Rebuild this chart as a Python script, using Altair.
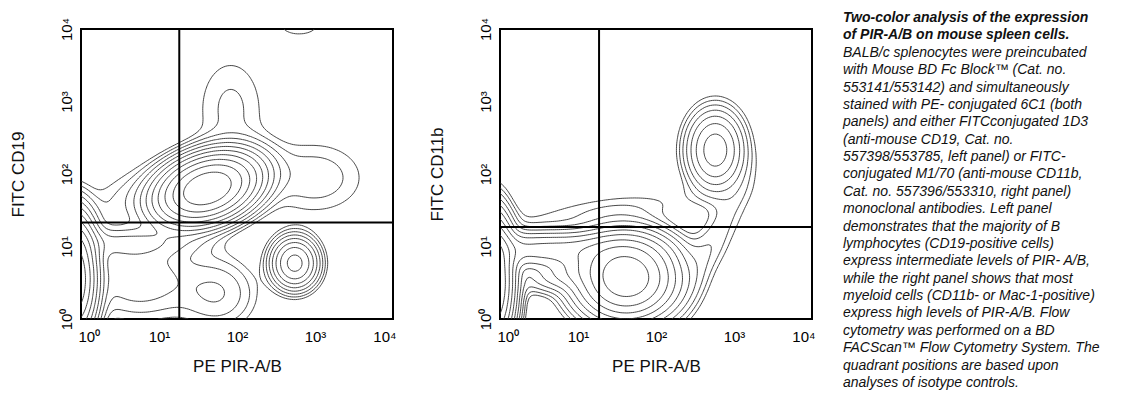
import numpy as np
import pandas as pd
import altair as alt

alt.data_transformers.disable_max_rows()

# ---------------- data (log10 decade units) ----------------
TICKS = [0, 1, 2, 3, 4]
TICK_TEXT = ["10⁰", "10¹", "10²", "10³", "10⁴"]
X_TITLE = "PE PIR-A/B"
Y_TITLES = ["FITC CD19", "FITC CD11b"]
QUAD_X = [1.26, 1.27]   # quadrant marker (decades) per panel
QUAD_Y = [1.33, 1.27]

# populations of each panel: centre x, centre y, spread x, spread y, tilt (deg), relative weight
L_CX = [1.62, 2.74, -0.12, 0.75, 0.55, 1.75, 1.92, 2.80, 3.00, 0.55]
L_CY = [1.80, 0.77, 0.55, 0.55, 1.05, 0.35, 2.90, 4.05, 1.95, 1.65]
L_SX = [0.34, 0.16, 0.16, 0.45, 0.55, 0.30, 0.33, 0.22, 0.45, 0.45]
L_SY = [0.22, 0.19, 0.42, 0.35, 0.13, 0.30, 0.55, 0.12, 0.35, 0.25]
L_ANG = [22, 0, 0, 0, 0, 0, 0, 0, 0, 35]
L_W = [170, 32, 200, 6, 6, 4, 1.8, 1.6, 2.2, 1.6]

R_CX = [2.76, 2.70, 1.62, -0.12, 0.60, 0.85, 1.30]
R_CY = [2.33, 1.00, 0.57, 0.50, 0.95, 0.62, 1.50]
R_SX = [0.20, 0.70, 0.33, 0.15, 0.70, 0.32, 0.90]
R_SY = [0.30, 0.15, 0.30, 0.45, 0.15, 0.13, 0.15]
R_ANG = [0, 63, 0, 0, 0, 10, 8]
R_W = [22, 2.2, 100, 150, 20, 8, 1.3]

LEVEL_BASE = 1.0
LEVEL_STEP = 1.6
N_LEVELS = 14

TEXT_BOLD = ["Two-color analysis of the expression",
             "of PIR-A/B on mouse spleen cells."]
TEXT_BODY = [
    "BALB/c splenocytes were preincubated",
    "with Mouse BD Fc Block™ (Cat. no.",
    "553141/553142) and simultaneously",
    "stained with PE- conjugated 6C1 (both",
    "panels) and either  FITCconjugated 1D3",
    "(anti-mouse CD19, Cat. no.",
    "557398/553785, left panel) or FITC-",
    "conjugated M1/70 (anti-mouse CD11b,",
    "Cat. no. 557396/553310, right panel)",
    "monoclonal antibodies. Left panel",
    "demonstrates that the majority of B",
    "lymphocytes (CD19-positive cells)",
    "express intermediate levels of PIR- A/B,",
    "while the right panel shows that most",
    "myeloid cells (CD11b- or Mac-1-positive)",
    "express high levels of PIR-A/B. Flow",
    "cytometry was performed on a BD",
    "FACScan™ Flow Cytometry System. The",
    "quadrant positions are based upon",
    "analyses of isotype  controls.",
]

FONT = "Liberation Sans"

# ---------------- density + contour tracing ----------------
GRID = np.linspace(0, 4, 161)


def density(cx, cy, sx, sy, ang, w):
    X, Y = np.meshgrid(GRID, GRID)
    Z = np.zeros_like(X)
    for a, b, c, d, t, k in zip(cx, cy, sx, sy, ang, w):
        th = np.radians(t)
        dx, dy = X - a, Y - b
        u = np.cos(th) * dx + np.sin(th) * dy
        v = -np.sin(th) * dx + np.cos(th) * dy
        Z += k * np.exp(-0.5 * ((u / c) ** 2 + (v / d) ** 2))
    return Z


def trace(Z, level):
    xs = ys = GRID
    ab = Z >= level
    case = (ab[:-1, :-1].astype(int) | (ab[:-1, 1:] << 1) | (ab[1:, 1:] << 2) | (ab[1:, :-1] << 3))
    js, is_ = np.nonzero((case != 0) & (case != 15))

    def pt(key):
        kind, i, j = key
        if kind == "h":
            z0, z1 = Z[j, i], Z[j, i + 1]
            t = (level - z0) / (z1 - z0)
            return xs[i] + t * (xs[i + 1] - xs[i]), ys[j]
        z0, z1 = Z[j, i], Z[j + 1, i]
        t = (level - z0) / (z1 - z0)
        return xs[i], ys[j] + t * (ys[j + 1] - ys[j])

    segs = []
    for j, i in zip(js, is_):
        c = case[j, i]
        B, R, T, L = ("h", i, j), ("v", i + 1, j), ("h", i, j + 1), ("v", i, j)
        if c in (5, 10):
            centre = Z[j:j + 2, i:i + 2].mean() >= level
            if (c == 5) == centre:
                segs += [(B, R), (T, L)]
            else:
                segs += [(L, B), (R, T)]
            continue
        b = [c & 1, (c >> 1) & 1, (c >> 2) & 1, (c >> 3) & 1]
        e = []
        if b[0] != b[1]:
            e.append(B)
        if b[1] != b[2]:
            e.append(R)
        if b[2] != b[3]:
            e.append(T)
        if b[3] != b[0]:
            e.append(L)
        segs.append((e[0], e[1]))

    adj = {}
    for n, (p, q) in enumerate(segs):
        adj.setdefault(p, []).append(n)
        adj.setdefault(q, []).append(n)
    used = [False] * len(segs)
    paths = []
    starts = [k for k, v in adj.items() if len(v) == 1] + list(adj.keys())
    for s in starts:
        if not [n for n in adj[s] if not used[n]]:
            continue
        path = [s]
        cur = s
        while True:
            nxt = [n for n in adj[cur] if not used[n]]
            if not nxt:
                break
            n = nxt[0]
            used[n] = True
            p, q = segs[n]
            cur = q if p == cur else p
            path.append(cur)
        paths.append([pt(k) for k in path])
    return paths


def contour_frame(cx, cy, sx, sy, ang, w):
    Z = density(cx, cy, sx, sy, ang, w)
    rows = []
    pid = 0
    for k in range(N_LEVELS):
        lev = LEVEL_BASE * LEVEL_STEP ** k
        for path in trace(Z, lev):
            for o, (x, y) in enumerate(path):
                rows.append((round(float(x), 3), round(float(y), 3), f"p{pid}", o))
            pid += 1
    return pd.DataFrame(rows, columns=["x", "y", "path", "order"])


frames = [contour_frame(L_CX, L_CY, L_SX, L_SY, L_ANG, L_W),
          contour_frame(R_CX, R_CY, R_SX, R_SY, R_ANG, R_W)]

label_expr = "{" + ",".join(f"'{t}':'{s}'" for t, s in zip(TICKS, TICK_TEXT)) + "}[datum.value + '']"


def panel(idx):
    xs = alt.Scale(domain=[0, 4], nice=False, zero=False)
    ys = alt.Scale(domain=[0, 4], nice=False, zero=False)
    xax = alt.Axis(values=TICKS, labelExpr=label_expr, title=X_TITLE, grid=False, ticks=False,
                   domain=False, labelFlush=True, labelFlushOffset=3, labelPadding=10,
                   labelFontSize=15, titleFontSize=17, titlePadding=14, labelFont=FONT,
                   titleFont=FONT, titleFontWeight="normal", labelColor="#000", titleColor="#111")
    yax = alt.Axis(values=TICKS, labelExpr=label_expr, title=Y_TITLES[idx], grid=False, ticks=False,
                   domain=False, labelFlush=True, labelAngle=-90, labelAlign="center",
                   labelBaseline="bottom", labelPadding=7, labelFontSize=15, titleFontSize=17,
                   titlePadding=32, labelFont=FONT, titleFont=FONT, titleFontWeight="normal",
                   labelColor="#000", titleColor="#111")
    lines = alt.Chart(frames[idx]).mark_line(color="#333333", strokeWidth=0.9, clip=True).encode(
        x=alt.X("x:Q", scale=xs, axis=xax),
        y=alt.Y("y:Q", scale=ys, axis=yax),
        detail="path:N",
        order="order:Q",
    )
    qv = alt.Chart(pd.DataFrame({"q": [QUAD_X[idx]]})).mark_rule(color="#000", strokeWidth=2).encode(
        x=alt.X("q:Q", scale=xs))
    qh = alt.Chart(pd.DataFrame({"q": [QUAD_Y[idx]]})).mark_rule(color="#000", strokeWidth=2).encode(
        y=alt.Y("q:Q", scale=ys))
    return alt.layer(lines, qv, qh).properties(
        width=312, height=290, view=alt.ViewBackground(stroke="#000", strokeWidth=2))


n_all = len(TEXT_BOLD) + len(TEXT_BODY)
tdf = pd.DataFrame({
    "line": list(range(n_all)),
    "text": TEXT_BOLD + TEXT_BODY,
    "bold": [True] * len(TEXT_BOLD) + [False] * len(TEXT_BODY),
})
tscale = alt.Scale(domain=[0, n_all - 1], range=[-18, 347])
tbase = alt.Chart(tdf).encode(
    y=alt.Y("line:Q", scale=tscale, axis=None),
    x=alt.value(0),
    text="text:N",
)
t_bold = tbase.transform_filter("datum.bold").mark_text(
    align="left", baseline="top", font=FONT, fontSize=14, fontStyle="italic", fontWeight="bold", color="#111")
t_body = tbase.transform_filter("!datum.bold").mark_text(
    align="left", baseline="top", font=FONT, fontSize=14, fontStyle="italic", color="#111")
text_panel = alt.layer(t_bold, t_body).properties(
    width=10, height=290, view=alt.ViewBackground(stroke="transparent", strokeWidth=0))

plots = alt.hconcat(panel(0), panel(1), spacing=30)
chart = alt.hconcat(plots, text_panel, spacing=27).properties(
    padding={"top": 3, "left": 0, "right": 0, "bottom": 0}).configure_view(stroke="transparent")

chart.save("out.html", embed_options={"renderer": "svg", "actions": False})
